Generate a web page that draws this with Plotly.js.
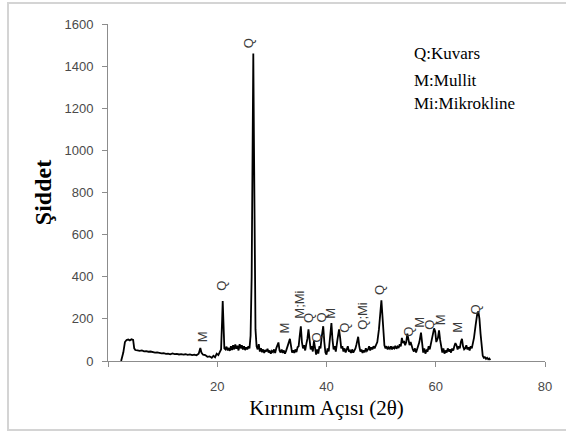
<!DOCTYPE html>
<html>
<head>
<meta charset="utf-8">
<script src="https://cdn.plot.ly/plotly-3.0.1.min.js"></script>
<style>html,body{margin:0;padding:0;background:#fff;}#chart{width:566px;height:433px;}</style>
</head>
<body>
<div id="chart"></div>
<script>
var angle = [2.4,2.8,3.1,3.4,3.7,4.0,4.3,4.6,4.8,5.0,5.4,5.8,6.2,6.6,7.0,7.4,7.8,8.2,8.6,9.0,9.4,9.8,10.2,10.6,11.0,11.4,11.8,12.2,12.6,13.0,13.4,13.8,14.2,14.6,15.0,15.4,15.8,16.2,16.6,16.9,17.1,17.4,17.8,18.2,18.6,19.0,19.3,19.6,19.9,20.2,20.5,20.7,20.9,21.0,21.1,21.3,21.5,21.7,21.9,22.1,22.3,22.5,22.7,22.9,23.1,23.3,23.5,23.7,23.9,24.1,24.3,24.5,24.7,24.9,25.1,25.3,25.5,25.7,25.9,26.1,26.3,26.5,26.6,26.7,26.85,27.0,27.2,27.4,27.6,27.8,28.0,28.2,28.4,28.6,28.8,29.0,29.2,29.4,29.6,29.8,30.0,30.2,30.4,30.6,30.8,31.0,31.2,31.4,31.6,31.8,32.0,32.2,32.4,32.6,32.8,33.0,33.3,33.5,33.7,33.9,34.1,34.3,34.5,34.7,34.9,35.1,35.3,35.5,35.7,35.9,36.1,36.3,36.5,36.7,36.9,37.1,37.3,37.5,37.7,37.9,38.1,38.3,38.5,38.7,38.9,39.1,39.4,39.6,39.8,40.0,40.2,40.4,40.6,40.9,41.1,41.3,41.5,41.7,42.0,42.3,42.5,42.7,42.9,43.1,43.3,43.5,43.7,43.9,44.1,44.3,44.5,44.7,44.9,45.1,45.3,45.5,45.8,46.0,46.2,46.4,46.6,46.8,47.0,47.2,47.4,47.6,47.8,48.0,48.2,48.4,48.6,48.8,49.0,49.3,49.6,49.9,50.05,50.2,50.4,50.6,50.8,51.0,51.2,51.4,51.6,51.8,52.0,52.2,52.4,52.6,52.8,53.0,53.2,53.4,53.6,53.8,54.0,54.2,54.4,54.6,54.8,55.0,55.2,55.4,55.6,55.8,56.0,56.2,56.4,56.6,56.8,57.0,57.3,57.5,57.7,57.9,58.1,58.3,58.5,58.7,58.9,59.1,59.4,59.7,59.9,60.1,60.4,60.6,60.8,61.0,61.2,61.4,61.6,61.8,62.0,62.2,62.4,62.6,62.8,63.0,63.2,63.4,63.6,63.8,64.0,64.2,64.4,64.6,64.8,65.0,65.2,65.4,65.6,65.8,66.0,66.2,66.4,66.6,66.8,67.0,67.3,67.6,67.8,68.0,68.2,68.4,68.6,68.8,69.0,69.2,69.4,69.6,69.8,70.0];
var intensity = [0,40,90,100,102,98,103,100,60,52,50,48,50,46,47,44,45,42,40,41,38,36,37,34,35,32,36,33,34,31,33,30,32,29,31,28,30,27,35,62,40,30,28,20,22,15,25,18,35,28,45,55,200,285,210,60,55,68,50,62,48,70,52,75,55,78,58,72,50,80,60,75,55,70,52,65,55,70,60,120,400,1100,1460,1100,400,150,70,55,80,45,60,42,55,38,52,45,58,40,50,35,48,42,55,38,60,75,88,50,40,55,38,50,35,48,60,80,105,60,40,50,38,55,42,65,70,120,165,90,60,75,50,80,105,150,80,55,70,45,95,50,30,55,35,70,60,110,165,90,40,30,60,45,100,180,100,55,70,45,100,150,110,60,70,45,60,40,55,70,45,50,38,55,40,50,60,80,115,70,45,55,38,50,42,60,48,55,70,50,65,55,70,60,75,90,150,250,288,230,120,75,60,70,55,65,58,70,55,65,60,72,58,68,62,80,70,110,85,95,75,90,130,100,75,90,65,55,45,60,40,55,70,90,135,80,40,60,35,50,45,70,55,80,120,155,140,90,110,145,100,55,40,60,35,50,40,60,45,55,40,60,50,70,85,75,55,70,60,90,105,70,55,60,75,55,65,50,70,60,80,110,170,225,235,200,130,60,25,15,18,10,15,8,12,5];

// Peak phase labels
var peakText = ["M","Q","Q","M","M;Mi","Q","Q","Q","M","Q","Q;Mi","Q","Q","M","Q","M","M","Q"];
var peakX = [17.3,20.8,25.7,32.4,35.1,36.85,38.2,39.1,40.8,43.4,46.6,49.7,55.0,57.0,58.8,60.9,64.1,67.2];
var peakY = [115,355,1511,159,266,205,110,205,229,158,213,340,141,183,173,197,158,245];

// Phase key
var keyText = ["Q:Kuvars","M:Mullit","Mi:Mikrokline"];

var xTicks = [0,20,40,60,80];
var xTickText = ["","20","40","60","80"];

var annotations = [];
for (var i = 0; i < peakText.length; i++) {
  annotations.push({
    x: peakX[i], y: peakY[i], xref: "x", yref: "y",
    text: peakText[i], textangle: -90, showarrow: false,
    font: {family: "Liberation Sans, Arial, sans-serif", size: 13, color: "#3a3a3a"}
  });
}
var keyY = [0.911, 0.831, 0.763];
for (var k = 0; k < keyText.length; k++) {
  annotations.push({
    x: 0.696, y: keyY[k], xref: "paper", yref: "paper",
    xanchor: "left", yanchor: "middle",
    text: keyText[k], showarrow: false,
    font: {family: "Liberation Serif, Times New Roman, serif", size: 17, color: "#000"}
  });
}

var trace = {
  x: angle, y: intensity, type: "scatter", mode: "lines",
  line: {color: "#000", width: 1.8}, hoverinfo: "skip"
};

var layout = {
  width: 566, height: 433,
  margin: {l: 108, r: 21, t: 24, b: 72},
  paper_bgcolor: "#fff", plot_bgcolor: "#fff",
  showlegend: false,
  xaxis: {
    range: [0, 80], tickvals: xTicks, ticktext: xTickText,
    showgrid: false, zeroline: false, showline: true, linecolor: "#8c8c8c", linewidth: 1,
    ticks: "outside", ticklen: 5, tickcolor: "#8c8c8c", ticklabelstandoff: 8,
    tickfont: {family: "Liberation Sans, Arial, sans-serif", size: 13, color: "#4a4a4a"},
    title: {text: "Kırınım Açısı (2θ)", standoff: 7,
      font: {family: "Liberation Serif, Times New Roman, serif", size: 21, color: "#000"}}
  },
  yaxis: {
    range: [0, 1600], dtick: 200,
    showgrid: false, zeroline: false, showline: true, linecolor: "#8c8c8c", linewidth: 1,
    ticks: "outside", ticklen: 5, tickcolor: "#8c8c8c", ticklabelstandoff: 6,
    tickfont: {family: "Liberation Sans, Arial, sans-serif", size: 13, color: "#4a4a4a"},
    title: {text: "<b>Şiddet</b>", standoff: 6,
      font: {family: "Liberation Serif, Times New Roman, serif", size: 24, color: "#000"}}
  },
  shapes: [{
    type: "rect", xref: "paper", yref: "paper",
    x0: -0.2288, x1: 1.06, y0: -0.2047, y1: 1.0623,
    line: {color: "#d4d4d4", width: 2}
  }],
  annotations: annotations
};

Plotly.newPlot("chart", [trace], layout, {displayModeBar: false, staticPlot: true});
</script>
</body>
</html>
